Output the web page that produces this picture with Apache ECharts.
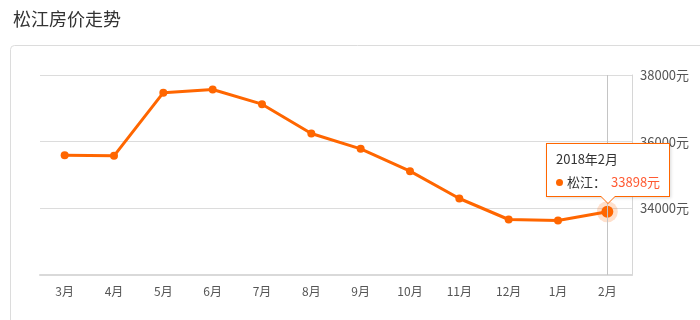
<!DOCTYPE html>
<html><head><meta charset="utf-8">
<script src="https://cdn.jsdelivr.net/npm/echarts@6/dist/echarts.min.js"></script>
<style>html,body{margin:0;padding:0;background:#fff}#c{position:absolute;left:0;top:0;width:700px;height:320px}</style>
</head><body><div id="c"></div>
<script>
const months = ['3月','4月','5月','6月','7月','8月','9月','10月','11月','12月','1月','2月'];
const years = [2017,2017,2017,2017,2017,2017,2017,2017,2017,2017,2018,2018];
const prices = [35590,35575,37470,37565,37125,36245,35785,35115,34295,33665,33635,33898];
const yTicks = [32000,34000,36000,38000];
const seriesName = '松江';
const titleText = '松江房价走势';
const unit = '元';
const focusIndex = 11;

const FONT = "'Noto Sans CJK SC','Noto Sans',sans-serif";
const chart = echarts.init(document.getElementById('c'), null, {renderer:'canvas'});

const lineData = prices.map((v,i)=> i===focusIndex ? {value: v, symbolSize: 12} : v);
const haloData = prices.map((v,i)=> i===focusIndex ? v : '-');

chart.setOption({
  animation: false,
  textStyle: {fontFamily: FONT},
  title: {text: titleText, left: 8, top: 5, textStyle:{fontSize:18, fontWeight:'normal', color:'#333', fontFamily: FONT}},
  graphic: [{type:'rect', silent:true, z:-10, shape:{x:10.5,y:45.5,width:740,height:320,r:4}, style:{fill:'none', stroke:'#dcdcdc', lineWidth:1}}],
  grid: {left:40, right:68, top:75, bottom:45},
  xAxis: {
    type:'category', data: months, boundaryGap:true,
    axisLine:{lineStyle:{color:'#d9d9d9', width:2}},
    axisTick:{alignWithLabel:true, length:4, lineStyle:{color:'#ccc'}},
    axisLabel:{color:'#555', fontSize:12, margin:10, fontFamily: FONT}
  },
  yAxis: {
    type:'value', position:'right', min: yTicks[0], max: yTicks[yTicks.length-1], interval: yTicks[1]-yTicks[0],
    axisLine:{show:true, lineStyle:{color:'#d6d6d6', width:1}},
    axisTick:{show:false},
    splitLine:{lineStyle:{color:'#dcdcdc'}},
    axisLabel:{color:'#555', fontSize:13, margin:8, fontFamily: FONT, formatter: v => v===yTicks[0] ? '' : v + unit}
  },
  tooltip: {
    trigger:'axis', triggerOn:'none', alwaysShowContent:true, transitionDuration:0,
    axisPointer:{type:'line', lineStyle:{color:'#c4c4c4', width:1, type:'solid'}, animation:false},
    backgroundColor:'#fff', borderColor:'#ff6600', borderWidth:1, padding:[6,9,5,9],
    extraCssText:'border-radius:0;box-shadow:1px 1px 3px rgba(0,0,0,0.15);overflow:visible;',
    textStyle:{color:'#333', fontSize:13, fontFamily: FONT},
    position: function(point, params, dom, rect, size){
      const p = chart.convertToPixel({seriesIndex:0}, [focusIndex, prices[focusIndex]]);
      return [p[0]-size.contentSize[0]/2 + 1, p[1]-size.contentSize[1]-15];
    },
    formatter: function(params){
      const p = params[0];
      const i = p.dataIndex;
      return '<div style="line-height:18px;margin-bottom:5px">' + years[i] + '年' + months[i] + '</div>' +
        '<div style="line-height:18px"><span style="display:inline-block;width:7px;height:7px;border-radius:50%;background:#ff6600;margin-right:4px;vertical-align:1px"></span>' +
        seriesName + '：<span style="color:#ff5a33;margin-left:5px">' + prices[i] + unit + '</span></div>' +
        '<div style="position:absolute;left:50%;bottom:-8px;margin-left:-8px;width:0;height:0;border-left:8px solid transparent;border-right:8px solid transparent;border-top:8px solid #ff6600"></div>' +
        '<div style="position:absolute;left:50%;bottom:-6.5px;margin-left:-7px;width:0;height:0;border-left:7px solid transparent;border-right:7px solid transparent;border-top:7px solid #fff"></div>';
    }
  },
  series: [{
    name: seriesName, type:'line', data: lineData, z: 3,
    symbol:'circle', symbolSize:8, showAllSymbol:true,
    lineStyle:{color:'#ff6600', width:3},
    itemStyle:{color:'#ff6600'},
    emphasis:{scale:false, disabled:true}
  },{
    name: 'halo', type:'scatter', data: haloData, z: 2, silent:true,
    symbol:'circle', symbolSize:21,
    itemStyle:{color:'rgba(255,102,0,0.25)'},
    tooltip:{show:false},
    emphasis:{disabled:true}
  }]
});
chart.dispatchAction({type:'showTip', seriesIndex:0, dataIndex:focusIndex});
</script>
</body></html>
